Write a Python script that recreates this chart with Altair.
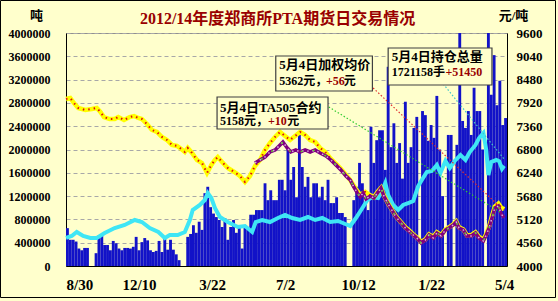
import altair as alt
import pandas as pd

START = "2012-08-30"
END_DAY = 616  # axis end, days after START

x_tick_dates = ["2012-08-30", "2012-12-10", "2013-03-22", "2013-07-02",
                "2013-10-12", "2014-01-22", "2014-05-04"]
x_tick_labels = ["8/30", "12/10", "3/22", "7/2", "10/12", "1/22", "5/4"]

# daily volume, aggregated into 4-day slots starting at START (unit: 10,000 lots)
vol_slot_days = 4
volume_wan = [65, 45, 45, 42, 30, 27, 31, 31, 0, 0, 22, 52, 52, 36, 36, 27, 43, 39, 30, 27,
              31, 31, 30, 33, 50, 27, 41, 48, 44, 27, 24, 26, 43, 24, 50, 28, 45, 28, 20, 10,
              0, 0, 50, 55, 70, 57, 76, 62, 125, 136, 101, 90, 84, 79, 67, 82, 45, 67, 79, 57,
              70, 30, 67, 67, 88, 88, 96, 96, 96, 142, 113, 130, 113, 113, 148, 148, 130, 203, 148, 170,
              118, 225, 170, 136, 153, 118, 142, 142, 118, 136, 113, 148, 108, 108, 118, 91, 91, 84, 0, 0,
              113, 136, 177, 142, 108, 96, 239, 177, 216, 233, 233, 165, 342, 204, 245, 177, 211, 150, 282, 177,
              204, 237, 256, 0, 266, 259, 215, 242, 220, 292, 200, 120, 0, 225, 225, 0, 208, 410, 249, 237,
              266, 225, 306, 266, 266, 200, 0, 410, 294, 362, 276, 318, 242, 254]

# open interest (lots), day offsets from START
oi_day = [0, 8, 15, 24, 34, 43, 54, 68, 82, 96, 106, 117, 129, 138, 145, 156, 166, 173, 177, 187,
          194, 198, 203, 208, 215, 226, 240, 250, 260, 265, 274, 285, 296, 306, 316, 327, 338, 348, 358, 369,
          380, 390, 397, 405, 414, 421, 428, 436, 442, 446, 450, 457, 464, 471, 478, 485, 492, 497, 504, 511,
          518, 523, 530, 536, 543, 551, 558, 564, 572, 577, 583, 587, 590, 594, 601, 605, 609, 612]
oi_k = [481, 515, 584, 515, 481, 481, 566, 652, 704, 790, 755, 652, 584, 481, 532, 532, 584, 790, 961, 1047,
        1133, 1253, 1167, 996, 841, 755, 670, 687, 584, 755, 790, 755, 824, 876, 824, 790, 841, 790, 824, 755,
        773, 721, 687, 824, 996, 1133, 1184, 1167, 1305, 1425, 1219, 1047, 961, 1047, 1081, 1116, 1373, 1476, 1614, 1631,
        1734, 1597, 1803, 1682, 1803, 1905, 1820, 1957, 2077, 2197, 2283, 1991, 1562, 1785, 1820, 1800, 1670, 1721.158]

# weighted average price (yuan/ton)
avg_day = [0, 6, 11, 17, 27, 36, 43, 48, 53, 61, 68, 73, 81, 89, 95, 101, 106, 113, 120, 127,
           134, 141, 148, 155, 161, 166, 170, 176, 183, 190, 197, 203, 208, 212, 218, 226, 235, 243, 250, 257,
           264, 271, 278, 285, 292, 299, 306, 313, 320, 327, 334, 341, 348, 355, 362, 369, 376, 383, 390, 397,
           404, 411, 418, 425, 430, 436, 440, 444, 450, 455, 461, 467, 474, 479, 485, 490, 496, 502, 507, 513,
           518, 524, 530, 535, 541, 545, 549, 555, 560, 566, 572, 577, 583, 587, 591, 595, 599, 604, 608, 612]
avg_price = [8014, 8038, 7918, 7798, 7750, 7774, 7798, 7702, 7581, 7533, 7533, 7581, 7509, 7581, 7605, 7557, 7533, 7413, 7269, 7221,
             7101, 7029, 6909, 6885, 6813, 6741, 6837, 6717, 6548, 6476, 6236, 6428, 6548, 6620, 6500, 6356, 6260, 6164, 6020, 6164,
             6404, 6548, 6788, 6957, 7101, 7221, 7125, 7029, 7125, 7221, 7149, 7029, 6981, 6837, 6741, 6596, 6476, 6356, 6212, 6068,
             5875, 5707, 5780, 5700, 5650, 5800, 5880, 5700, 5500, 5360, 5190, 5070, 4930, 4860, 4760, 4690, 4580, 4640, 4760, 4700,
             4810, 4740, 4880, 4930, 5000, 5070, 4930, 4880, 4740, 4740, 4810, 4700, 4630, 4770, 4950, 5200, 5430, 5500, 5400, 5362]

# main contract price (yuan/ton)
ctr_day = [264, 271, 278, 285, 292, 299, 303, 309, 314, 321, 327, 334, 341, 348, 355, 363, 370, 377, 384, 391,
           397, 402, 407, 411, 415, 419, 425, 430, 436, 440, 444, 450, 455, 461, 467, 474, 479, 485, 490, 496,
           502, 507, 513, 518, 524, 530, 535, 541, 545, 549, 555, 560, 566, 572, 577, 583, 587, 591, 595, 599,
           604, 608, 612]
ctr_price = [6476, 6548, 6620, 6740, 6788, 6909, 6981, 6837, 6740, 6788, 6740, 6788, 6740, 6788, 6716, 6644, 6548, 6428, 6308, 6164,
             6068, 5900, 5755, 5659, 5755, 5611, 5683, 5635, 5779, 5875, 5683, 5491, 5347, 5178, 5058, 4914, 4842, 4746, 4674, 4554,
             4626, 4746, 4674, 4794, 4722, 4866, 4914, 4986, 5058, 4914, 4866, 4722, 4722, 4794, 4674, 4602, 4746, 4914, 5154, 5395,
             5443, 5250, 5158]

# annotation boxes (day range, price range) and their texts
box_d1 = [211, 293, 450]
box_d2 = [366, 428, 595]
box_p1 = [8062, 9047, 9240]
box_p2 = [7293, 8206, 8350]

txt_day = [215, 215, 282, 309, 298, 298, 363, 388, 455, 455, 530]
txt_price = [7790, 7480, 7480, 7480, 8830, 8445, 8445, 8445, 9030, 8660, 8660]
txt_text = ["5月4日TA505合约", "5158元，", "+10", "元",
            "5月4日加权均价", "5362元，", "+56", "元",
            "5月4日持仓总量", "1721158手", "+51450"]
txt_color = ["#000000", "#000000", "#990000", "#000000",
             "#000000", "#000000", "#990000", "#000000",
             "#000000", "#000000", "#990000"]
txt_size = [13, 12, 12, 12, 13, 12, 12, 12, 13, 12, 12]

# leader lines: price coordinates (TA505 and weighted average)
lead_day = [[367, 606], [429, 602]]
lead_price = [[7822, 5300], [8278, 5490]]
lead_color = ["#33CC33", "#E03030"]
# open-interest leader: left-axis coordinates
oi_lead_day = [527, 613]
oi_lead_val = [3124000, 1820000]

# ---------------------------------------------------------------------------
start = pd.Timestamp(START)
tick_days = [(pd.Timestamp(d) - start).days for d in x_tick_dates]
label_expr = " : ".join(f"datum.value == {d} ? '{l}'" for d, l in zip(tick_days, x_tick_labels)) + " : ''"

SERIF = "Liberation Serif"
MIX = "Liberation Serif, Noto Sans CJK SC"

xscale = alt.Scale(domain=[0, END_DAY], nice=False, zero=False)
vscale = alt.Scale(domain=[0, 4000000], nice=False)
pscale = alt.Scale(domain=[4000, 9600], nice=False, zero=False)

vol_df = pd.DataFrame({
    "d0": [i * vol_slot_days for i in range(len(volume_wan))],
    "d1": [(i + 1) * vol_slot_days for i in range(len(volume_wan))],
    "v": [w * 10000 for w in volume_wan],
})
oi_df = pd.DataFrame({"day": oi_day, "v": [k * 1000 for k in oi_k]})
avg_df = pd.DataFrame({"day": avg_day, "p": avg_price})
ctr_df = pd.DataFrame({"day": ctr_day, "p": ctr_price})
box_df = pd.DataFrame({"d1": box_d1, "d2": box_d2, "p1": box_p1, "p2": box_p2})
txt_df = pd.DataFrame({"day": txt_day, "p": txt_price, "t": txt_text, "c": txt_color, "s": txt_size})
lead_rows = []
for k, (dd, pp, cc) in enumerate(zip(lead_day, lead_price, lead_color)):
    for d, p in zip(dd, pp):
        lead_rows.append({"g": k, "day": d, "p": p, "c": cc})
lead_df = pd.DataFrame(lead_rows)
oi_lead_df = pd.DataFrame({"day": oi_lead_day, "v": oi_lead_val})

x_axis = alt.Axis(values=tick_days, labelExpr=label_expr, labelFont=SERIF, labelFontWeight="bold",
                  labelFontSize=15, labelColor="black", labelPadding=11, ticks=False, grid=False,
                  domainColor="black", title=None, labelOverlap=False)
left_axis = alt.Axis(values=list(range(0, 4000001, 400000)), format="d", orient="left",
                     labelFont=SERIF, labelFontWeight="bold", labelFontSize=12, labelColor="black",
                     labelPadding=16, ticks=False, domainColor="black", grid=True, gridColor="#A8A8A8",
                     gridDash=[4, 3], title="吨", titleAngle=0, titleX=-30, titleY=-18,
                     titleFont=MIX, titleFontSize=13, titleFontWeight="bold", titleAlign="center",
                     titleBaseline="middle", titleColor="black")
right_axis = alt.Axis(values=list(range(4000, 9601, 560)), format="d", orient="right",
                      labelFont=SERIF, labelFontWeight="bold", labelFontSize=13, labelColor="black",
                      labelPadding=9, ticks=False, domainColor="black", grid=False,
                      title="元/吨", titleAngle=0, titleX=6, titleY=-18,
                      titleFont=MIX, titleFontSize=13, titleFontWeight="bold", titleAlign="center",
                      titleBaseline="middle", titleColor="black")


def X(field):
    # every layer shares the same x scale and the same x-axis definition
    return alt.X(field, scale=xscale, axis=x_axis)


bars = alt.Chart(vol_df).mark_rect(color="#1212C8", clip=True).encode(
    x=X("d0:Q"),
    x2="d1:Q",
    y=alt.Y("v:Q", scale=vscale, axis=left_axis),
    y2=alt.datum(0),
)
oi_line = alt.Chart(oi_df).mark_line(color="#3FE6F5", strokeWidth=4).encode(
    x=X("day:Q"),
    y=alt.Y("v:Q", scale=vscale, axis=None),
)
oi_lead = alt.Chart(oi_lead_df).mark_line(color="#40C8C8", strokeWidth=1.2, strokeDash=[1.5, 2]).encode(
    x=X("day:Q"),
    y=alt.Y("v:Q", scale=vscale, axis=None),
)


def pline(df, **kw):
    return alt.Chart(df).mark_line(**kw).encode(
        x=X("day:Q"),
        y=alt.Y("p:Q", scale=pscale, axis=None),
    )


avg_base = alt.Chart(avg_df).mark_line(color="#FFFF00", strokeWidth=4.5).encode(
    x=X("day:Q"),
    y=alt.Y("p:Q", scale=pscale, axis=right_axis),
)
avg_dots = pline(avg_df, color="#E01010", strokeWidth=2, strokeDash=[1.5, 4])
ctr_base = pline(ctr_df, color="#800080", strokeWidth=3.5)
ctr_dots = pline(ctr_df, color="#D8B0E0", strokeWidth=1.5, strokeDash=[1.5, 4])
ctr_dots2 = pline(ctr_df, color="#66CC33", strokeWidth=1.5, strokeDash=[2, 11], strokeDashOffset=6)

leaders = alt.Chart(lead_df).mark_line(strokeWidth=1.2, strokeDash=[1.5, 2]).encode(
    x=X("day:Q"),
    y=alt.Y("p:Q", scale=pscale, axis=None),
    detail="g:N",
    color=alt.Color("c:N", scale=None),
)
boxes = alt.Chart(box_df).mark_rect(fill="#FFFFCC", stroke="#404040", strokeWidth=1.2).encode(
    x=X("d1:Q"), x2="d2:Q",
    y=alt.Y("p1:Q", scale=pscale, axis=None), y2="p2:Q",
)
texts = alt.Chart(txt_df).mark_text(align="left", baseline="middle", font=MIX, fontWeight="bold").encode(
    x=X("day:Q"),
    y=alt.Y("p:Q", scale=pscale, axis=None),
    text="t:N",
    color=alt.Color("c:N", scale=None),
    size=alt.Size("s:Q", scale=None),
)

# outer chart frame (decoration around the whole figure)
frame = alt.Chart(pd.DataFrame({"k": [0]})).mark_rect(fillOpacity=0, stroke="black", strokeWidth=1).encode(
    x=alt.value(-65.5), x2=alt.value(489.5), y=alt.value(-32.5), y2=alt.value(264.5))

chart = alt.layer(
    bars, oi_line, oi_lead, avg_base, avg_dots, ctr_base, ctr_dots, ctr_dots2, leaders, boxes, texts, frame
).resolve_scale(
    y="independent"
).properties(
    width=441, height=233,
    autosize=alt.AutoSizeParams(type="none"),
    padding={"left": 66, "top": 33, "right": 51, "bottom": 35},
    background="#FFFFCC",
    title=alt.Title("2012/14年度郑商所PTA期货日交易情况", font=MIX, fontSize=16, fontWeight="bold",
                    color="#990000", offset=-27, dx=-9, anchor="middle"),
).configure_view(stroke="#909090")

chart.save("out.html", embed_options={"renderer": "svg", "actions": False})
